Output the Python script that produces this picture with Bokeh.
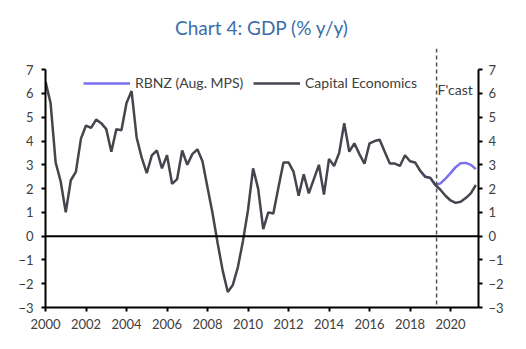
from bokeh.plotting import figure
from bokeh.models import (Range1d, LinearAxis, FixedTicker, Span, Legend, LegendItem,
                          ColumnDataSource)
from bokeh.core.properties import value
from bokeh.embed import file_html
from bokeh.resources import INLINE

# ---------------- data ----------------
years = list(range(2000, 2022))
ce_quarters = [f"{y}Q{q}" for y in years for q in (1, 2, 3, 4)][:86]
ce_values = [
    6.5, 5.6, 3.1, 2.3,
    1.0, 2.35, 2.7, 4.1,
    4.65, 4.55, 4.9, 4.75,
    4.5, 3.55, 4.5, 4.45,
    5.6, 6.1, 4.15, 3.3,
    2.65, 3.4, 3.6, 2.85,
    3.4, 2.2, 2.4, 3.6,
    3.0, 3.45, 3.65, 3.15,
    2.05, 0.95, -0.3, -1.45,
    -2.35, -2.05, -1.3, -0.2,
    1.1, 2.85, 2.0, 0.3,
    1.0, 0.95, 2.05, 3.1,
    3.1, 2.7, 1.7, 2.6,
    1.8, 2.4, 3.0, 1.75,
    3.25, 2.95, 3.5, 4.75,
    3.55, 3.9, 3.45, 3.05,
    3.9, 4.0, 4.05, 3.55,
    3.05, 3.05, 2.95, 3.4,
    3.15, 3.1, 2.75, 2.5,
    2.45, 2.15, 1.95, 1.7,
    1.5, 1.4, 1.45, 1.6,
    1.8, 2.15,
]
rbnz_quarters = ["2018Q3", "2018Q4", "2019Q1", "2019Q2", "2019Q3", "2019Q4",
                 "2020Q1", "2020Q2", "2020Q3", "2020Q4", "2021Q1", "2021Q2"]
rbnz_values = [2.75, 2.5, 2.45, 2.15, 2.22, 2.42, 2.65, 2.9, 3.07, 3.08, 3.0, 2.82]
forecast_start = "2019Q2"
x_ticks = list(range(2000, 2021, 2))
y_ticks = list(range(-3, 8))


def qpos(q):
    return int(q[:4]) + (int(q[5]) - 1) * 0.25


def qpos_mid(q):
    return qpos(q) + 0.06


ce_src = ColumnDataSource(dict(x=[qpos(q) for q in ce_quarters], y=ce_values))
rb_src = ColumnDataSource(dict(x=[qpos(q) for q in rbnz_quarters], y=rbnz_values))

FONT = "Lato"
TXT = "#404040"

p = figure(width=526, height=349, output_backend="svg", toolbar_location=None,
           x_range=Range1d(2000, 2021.38), y_range=Range1d(-3, 7.89),
           min_border_left=45, min_border_right=48, min_border_top=48,
           min_border_bottom=42, x_axis_type=None, y_axis_type=None,
           title="Chart 4: GDP (% y/y)")
p.title.align = "center"
p.title.text_font = FONT
p.title.text_font_size = "19px"
p.title.text_font_style = "normal"
p.title.text_color = "#3b6ea8"
p.title.standoff = 20
p.outline_line_color = None
p.xgrid.visible = False
p.ygrid.visible = False
p.background_fill_color = "white"
p.border_fill_color = "white"


def style_axis(ax):
    ax.axis_line_color = "black"
    ax.axis_line_width = 2
    ax.major_tick_line_color = "black"
    ax.major_tick_line_width = 2
    ax.major_tick_out = 4
    ax.major_tick_in = 0
    ax.minor_tick_line_color = None
    ax.major_label_text_font = FONT
    ax.major_label_text_font_size = "13px"
    ax.major_label_text_color = TXT


xa = LinearAxis(ticker=FixedTicker(ticks=x_ticks))
style_axis(xa)
xa.major_label_standoff = 7
p.add_layout(xa, "below")

ya = LinearAxis(ticker=FixedTicker(ticks=y_ticks), bounds=(-3, 7))
style_axis(ya)
ya.major_label_standoff = 8
p.add_layout(ya, "left")

yr = LinearAxis(ticker=FixedTicker(ticks=y_ticks), bounds=(-3, 7))
style_axis(yr)
yr.major_label_standoff = 6
p.add_layout(yr, "right")

p.add_layout(Span(location=0, dimension="width", line_color="black", line_width=2))
p.add_layout(Span(location=qpos_mid(forecast_start), dimension="height",
                  line_color="#555555", line_width=1.5, line_dash="4 3"))

rb_r = p.line("x", "y", source=rb_src, line_color="#7b6ff0", line_width=2.5)
ce_r = p.line("x", "y", source=ce_src, line_color="#45454d", line_width=2.5)

p.text(x=[qpos_mid(forecast_start) + 0.05], y=[6.15], text=["F'cast"],
       text_font=value(FONT), text_font_size="14px", text_color=TXT,
       text_align="left", text_baseline="middle")


def make_legend(label, r, loc):
    lg = Legend(items=[LegendItem(label=label, renderers=[r])], location=loc,
                padding=0, margin=0, spacing=0, glyph_width=47, glyph_height=16,
                label_height=16, label_standoff=5, background_fill_alpha=0,
                border_line_color=None, label_text_font=FONT,
                label_text_font_size="14px", label_text_color=TXT)
    p.add_layout(lg, "center")


make_legend("RBNZ (Aug. MPS)", rb_r, (38, 216))
make_legend("Capital Economics", ce_r, (208, 216))

open("out.html", "w").write(file_html(p, INLINE))
